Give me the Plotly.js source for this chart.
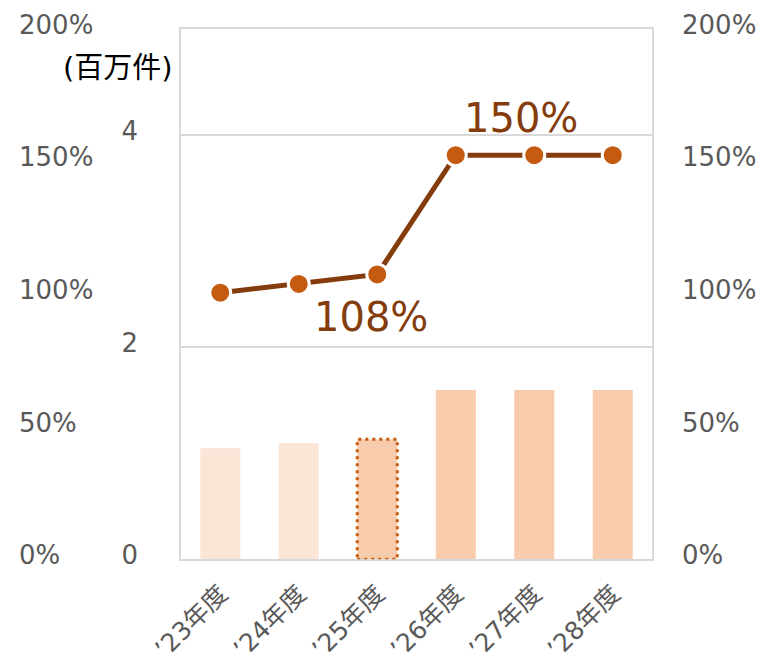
<!DOCTYPE html>
<html>
<head>
<meta charset="utf-8">
<script src="https://cdn.plot.ly/plotly-3.0.1.min.js"></script>
<style>html,body{margin:0;padding:0;background:#fff;}#chart{width:763px;height:664px;}</style>
</head>
<body>
<div id="chart"></div>
<script>
const categories = ['’23年度', '’24年度', '’25年度', '’26年度', '’27年度', '’28年度'];
const volumes = [1.047, 1.097, 1.132, 1.597, 1.597, 1.597];       // 百万件 (bars)
const ratios = [100.6, 103.9, 107.5, 152.5, 152.5, 152.5];        // % (line)
const dataLabels = ['', '', '108%', '', '150%', ''];
const barColors = ['#FBE5D6', '#FBE5D6', '#F8CBAD', '#F8CBAD', '#F8CBAD', '#F8CBAD'];
const highlightIndex = 2;
const countTicks = [0, 2, 4];
const pctTicks = [0, 50, 100, 150, 200];
const pctTickText = ['0%', '50%', '100%', '150%', '200%'];
const unitLabel = '(百万件)';

const W = 763, H = 664;
const AREA_TOP = 20, AREA_BOTTOM = 564;          // page px of the plotting area
const AREA_H = AREA_BOTTOM - AREA_TOP;
const FONT = 'DejaVu Sans, Noto Sans CJK JP, sans-serif';
const TICKCOL = '#595959';
const BARW = 0.51;
// helper: page-pixel -> paper fraction (vertical)
const py = p => (AREA_BOTTOM - p) / AREA_H;

// invisible helper traces so that the label-only axes are drawn
function ghost(axis, yvals) {
  return {type: 'scatter', mode: 'markers', x: categories.slice(0, yvals.length), y: yvals,
          yaxis: axis, marker: {opacity: 0, size: 1}, hoverinfo: 'skip', showlegend: false};
}

const traces = [
  ghost('y2', countTicks),
  ghost('y3', pctTicks),
  ghost('y4', pctTicks),
  {
    type: 'bar', x: categories, y: volumes, yaxis: 'y', width: BARW,
    marker: {color: barColors, line: {width: 0}}, hoverinfo: 'skip'
  },
  {
    type: 'scatter', mode: 'lines+markers', x: categories, y: ratios, yaxis: 'y5',
    line: {color: '#843C0C', width: 5},
    marker: {color: '#C55A11', size: 21, line: {color: '#ffffff', width: 3}},
    hoverinfo: 'skip'
  }
];

const annotations = [];
dataLabels.forEach((t, i) => {
  if (!t) return;
  const below = ratios[i] < 130;
  annotations.push({
    x: categories[i], y: ratios[i], xref: 'x', yref: 'y5', text: t, showarrow: false,
    font: {family: FONT, size: 40, color: '#843C0C'},
    xshift: below ? -6 : -13, yshift: below ? -43 : 37
  });
});
annotations.push({
  x: 118 / W, y: py(68), xref: 'paper', yref: 'paper',
  xanchor: 'center', yanchor: 'middle', text: unitLabel, showarrow: false,
  font: {family: FONT, size: 29, color: '#000000'}
});

const pctAxisCommon = {
  range: [0, 200], domain: [py(555), py(24.7)],
  tickvals: pctTicks, ticktext: pctTickText,
  showgrid: false, zeroline: false, showline: false, ticks: '',
  tickfont: {family: FONT, size: 26, color: TICKCOL}
};

const layout = {
  width: W, height: H,
  margin: {l: 0, r: 0, t: AREA_TOP, b: H - AREA_BOTTOM},
  paper_bgcolor: '#ffffff', plot_bgcolor: 'rgba(0,0,0,0)',
  showlegend: false,
  font: {family: FONT, color: TICKCOL},
  xaxis: {
    type: 'category', domain: [181 / W, 652 / W], range: [-0.5, 5.5], anchor: 'y',
    showline: true, mirror: true, linecolor: '#D9D9D9', linewidth: 2,
    showgrid: false, zeroline: false, ticks: '', tickangle: -45,
    ticklabelstandoff: 8,
    tickfont: {family: FONT, size: 25, color: TICKCOL}
  },
  yaxis: {
    range: [0, 5], domain: [py(559.3), py(29.3)], tickvals: countTicks, showticklabels: false,
    showline: true, mirror: true, linecolor: '#D9D9D9', linewidth: 2,
    showgrid: true, gridcolor: '#D9D9D9', gridwidth: 2, zeroline: false, ticks: ''
  },
  yaxis2: {
    side: 'left', anchor: 'x', range: [0, 5], domain: [py(554.5), py(24.5)],
    tickvals: countTicks, ticktext: countTicks.map(String),
    showgrid: false, zeroline: false, showline: false, ticks: '',
    ticklabelstandoff: 42,
    tickfont: {family: FONT, size: 26, color: TICKCOL}
  },
  yaxis3: Object.assign({side: 'right', anchor: 'x', ticklabelstandoff: 29}, pctAxisCommon),
  yaxis4: Object.assign({side: 'right', anchor: 'free', position: 18 / W}, pctAxisCommon),
  yaxis5: {
    overlaying: 'y', side: 'right', anchor: 'x', range: [0, 200],
    showgrid: false, zeroline: false, showline: false, showticklabels: false, ticks: ''
  },
  shapes: [{
    type: 'rect', xref: 'x', yref: 'y', layer: 'above',
    x0: highlightIndex - BARW / 2, x1: highlightIndex + BARW / 2,
    y0: 0, y1: volumes[highlightIndex],
    line: {color: '#C55A11', width: 3, dash: '3px,4px'}
  }],
  annotations: annotations
};

Plotly.newPlot('chart', traces, layout, {displayModeBar: false, staticPlot: true});
</script>
</body>
</html>
